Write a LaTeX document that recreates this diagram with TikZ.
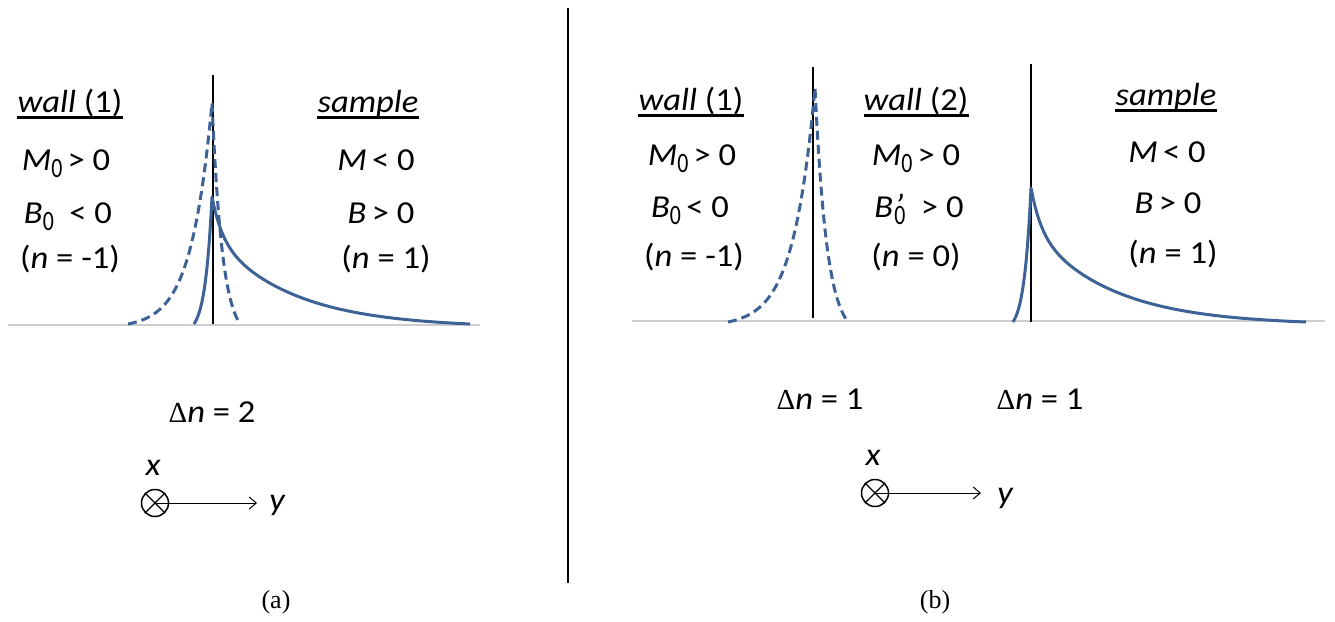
\documentclass[tikz,border=0pt]{standalone}
\usepackage{fontspec}
\newfontfamily\calfont[FakeStretch=1.08]{Carlito}
\newfontfamily\calsubfont[FakeStretch=0.78]{Carlito}
\newfontfamily\tmsfont{Liberation Serif}
\usetikzlibrary{arrows.meta}
\newcommand\subz[1]{\raisebox{-7pt}{\calsubfont\fontsize{28}{28}\selectfont #1}}
\newcommand\vi[1]{{\itshape #1}}
\newcommand\Dlt{{\tmsfont\fontsize{29}{29}\selectfont Δ}}
\definecolor{curveblue}{RGB}{62,98,150}
\definecolor{basegray}{RGB}{205,205,205}
\begin{document}
\begin{tikzpicture}[x=1pt,y=-1pt,
  txt/.style={inner sep=0,anchor=base,font=\calfont\fontsize{32}{36}\selectfont},
  caplabel/.style={inner sep=0,anchor=base,font=\tmsfont\fontsize{26}{30}\selectfont},
  uline/.style={line width=2.6pt,black},
  solidc/.style={curveblue,line width=3pt,line join=round},
  dashc/.style={curveblue,line width=3pt,dash pattern=on 9pt off 5pt},
  wallline/.style={black,line width=1.3pt},
  baseln/.style={basegray,line width=1.3pt},
  crossc/.style={circle,draw,line width=1.5pt,minimum size=27pt,inner sep=0},
  axarrow/.style={line width=1pt,-{Straight Barb[length=7pt,width=12pt]}}]
\useasboundingbox (0,0) rectangle (1335,621);

% ---------------- panel (a)
\draw[baseln] (8,325) -- (480,325);
\draw[wallline] (213,75) -- (213,324);
\draw[solidc] plot[domain=-18:0,samples=40] ({212+\x},{324-127*(exp(\x/7)-exp(-18/7))/(1-exp(-18/7))})
  -- plot[domain=0:258,samples=150] ({212+\x},{324-127*(0.3*exp(-\x/10)+0.7*exp(-\x/80)-0.7*exp(-258/80))/(1-0.7*exp(-258/80))});
\draw[dashc] plot[domain=-84:0,samples=80] ({212+\x},{324-221*(exp(\x/21)-exp(-4))/(1-exp(-4))})
  -- plot[domain=0:28,samples=40] ({212+\x},{324-221*(exp(-\x/10.5)-exp(-28/10.5))/(1-exp(-28/10.5))});

\node[txt] (aw) at (70,112) {\vi{wall} (1)};
\node[txt] (aM) at (66,170) {\vi{M}\subz{0}\,> 0};
\node[txt] (aB) at (68,223) {\vi{B}\subz{0}\ \ < 0};
\node[txt] (an) at (70,268) {(\vi{n} = -1)};
\node[txt] (as) at (368,112) {\vi{sample}};
\node[txt] (aM2) at (376,170) {\vi{M}\,< 0};
\node[txt] (aB2) at (381,223) {\vi{B}\,> 0};
\node[txt] (an2) at (386,268) {(\vi{n} = 1)};
\draw[uline] ([yshift=-5.5pt]aw.base west) -- ([yshift=-5.5pt]aw.base east);
\draw[uline] ([yshift=-5.5pt]as.base west) -- ([yshift=-5.5pt]as.base east);

\node[txt] (adn) at (212,422) {\Dlt\vi{n} = 2};
\node[txt] (ax) at (153,475) {\vi{x}};
\node[crossc] (ca) at (155,503) {};
\draw[line width=1.3pt] (ca.north west) -- (ca.south east) (ca.north east) -- (ca.south west);
\coordinate (yat) at (257,503);
\draw[axarrow] (ca.center) -- (yat);
\node[txt] (ay) at (277,510) {\vi{y}};
\node[caplabel] (capa) at (276,608) {(a)};

% divider
\draw[line width=2pt] (568,8) -- (568,583);

% ---------------- panel (b)
\draw[baseln] (632,321) -- (1325,321);
\draw[wallline] (813,67) -- (813,318);
\draw[wallline] (1031,64) -- (1031,322);
\draw[dashc] plot[domain=-87:0,samples=80] ({815+\x},{322-234*(exp(\x/22)-exp(-87/22))/(1-exp(-87/22))})
  -- plot[domain=0:33,samples=40] ({815+\x},{322-234*(exp(-\x/12)-exp(-33/12))/(1-exp(-33/12))});
\draw[solidc] plot[domain=-18:0,samples=40] ({1031+\x},{322-134*(exp(\x/7)-exp(-18/7))/(1-exp(-18/7))})
  -- plot[domain=0:275,samples=150] ({1031+\x},{322-134*(0.3*exp(-\x/10)+0.7*exp(-\x/80)-0.7*exp(-275/80))/(1-0.7*exp(-275/80))});

\node[txt] (bw1) at (691,110) {\vi{wall} (1)};
\node[txt] (bM1) at (692,165) {\vi{M}\subz{0}\,> 0};
\node[txt] (bB1) at (690,217) {\vi{B}\subz{0}\,< 0};
\node[txt] (bn1) at (694,266) {(\vi{n} = -1)};
\node[txt] (bw2) at (916,110) {\vi{wall} (2)};
\node[txt] (bM2) at (916,165) {\vi{M}\subz{0}\,> 0};
\node[txt] (bB2) at (919,217) {\vi{B}\kern1pt\rlap{\itshape\fontsize{34}{34}\selectfont’}\subz{0}\ \ > 0};
\node[txt] (bn2) at (916,266) {(\vi{n} = 0)};
\node[txt] (bs) at (1166,105) {\vi{sample}};
\node[txt] (bM3) at (1167,162) {\vi{M}\,< 0};
\node[txt] (bB3) at (1168,213) {\vi{B}\,> 0};
\node[txt] (bn3) at (1173,263) {(\vi{n} = 1)};
\draw[uline] ([yshift=-5.5pt]bw1.base west) -- ([yshift=-5.5pt]bw1.base east);
\draw[uline] ([yshift=-5.5pt]bw2.base west) -- ([yshift=-5.5pt]bw2.base east);
\draw[uline] ([yshift=-5.5pt]bs.base west) -- ([yshift=-5.5pt]bs.base east);

\node[txt] (bdn1) at (820,409) {\Dlt\vi{n} = 1};
\node[txt] (bdn2) at (1040,409) {\Dlt\vi{n} = 1};
\node[txt] (bx) at (873,465) {\vi{x}};
\node[crossc] (cb) at (875,493) {};
\draw[line width=1.3pt] (cb.north west) -- (cb.south east) (cb.north east) -- (cb.south west);
\coordinate (ybt) at (981,493);
\draw[axarrow] (cb.center) -- (ybt);
\node[txt] (by) at (1005,503) {\vi{y}};
\node[caplabel] (capb) at (935,608) {(b)};
\end{tikzpicture}
\end{document}
